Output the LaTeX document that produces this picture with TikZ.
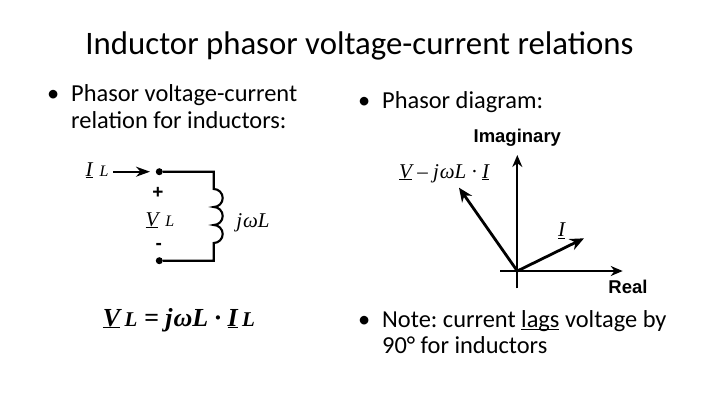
\documentclass[tikz,border=0pt]{standalone}
\usepackage{fontspec}
\usetikzlibrary{arrows.meta}
\setmainfont{Carlito}
\newfontfamily\serifl{Liberation Serif}
\newfontfamily\sansl{Liberation Sans}
\newcommand{\ul}[1]{\underline{\smash{#1}}}
\frenchspacing
\tikzset{
  titletext/.style={inner sep=0pt,font=\fontsize{32.8}{34}\selectfont,anchor=base},
  bodytext/.style={inner sep=0pt,font=\fontsize{24.4}{26}\selectfont,anchor=base west},
  symb/.style={inner sep=0pt,font=\serifl\itshape\fontsize{21}{22}\selectfont,anchor=base},
  eqn/.style={inner sep=0pt,font=\serifl\bfseries\itshape\fontsize{26}{27}\selectfont,anchor=base},
  axlabel/.style={inner sep=0pt,font=\sansl\bfseries\fontsize{18.5}{19}\selectfont,anchor=base},
  sign/.style={inner sep=0pt,font=\sansl\bfseries\fontsize{19}{20}\selectfont},
  wire/.style={draw=black,line width=2.1pt},
  axis/.style={draw=black,line width=2pt,-{Stealth[length=12pt,width=10pt]}},
  phasor/.style={draw=black,line width=2.8pt,-{Stealth[length=14pt,width=12pt]}},
  term/.style={circle,fill=black,inner sep=0pt,minimum size=7pt},
}
\begin{document}
\begin{tikzpicture}[x=1pt,y=-1pt]
\useasboundingbox (0,0) rectangle (720,405);
\node[titletext] (title) at (359.5,54) {Inductor phasor voltage-current relations};
\node[bodytext] (b1) at (47,101) {•};
\node[bodytext] (t1a) at (71,101) {Phasor voltage-current};
\node[bodytext] (t1b) at (71,128) {relation for inductors:};
\node[bodytext] (b2) at (358,108) {•};
\node[bodytext] (t2) at (382,108) {Phasor diagram:};
\node[bodytext] (b3) at (358,327.5) {•};
\node[bodytext] (t3a) at (382,327.5) {Note: current \ul{lags} voltage by};
\node[bodytext] (t3b) at (382,353) {90° for inductors};
% circuit
\node[term] (top) at (159.3,171.7) {};
\node[term] (bot) at (159.3,260.7) {};
\coordinate (cA) at (213.7,171.7);
\coordinate (cB) at (213.7,189);
\coordinate (cD) at (213.7,260.7);
\coordinate (iin) at (113.3,171.7);
\coordinate (iout) at (150,171.7);
\draw[wire] (top) -- (cA) -- (cB)
  arc[start angle=-90,end angle=90,radius=9]
  arc[start angle=-90,end angle=90,radius=9]
  arc[start angle=-90,end angle=90,radius=9]
  -- (cD) -- (bot);
\draw[draw=black,line width=2.1pt,-{Stealth[length=14pt,width=10pt]}] (iin) -- (iout);
\node[symb] (il) at (97,176) {\ul{I}\,\,\fontsize{16}{17}\selectfont L};
\node[sign] (plus) at (158,192.5) {+};
\node[symb] (vl) at (160,226) {\ul{V}\,\,\fontsize{16}{17}\selectfont L};
\node[sign] (minus) at (158.7,246.5) {-};
\node[symb] (jwl) at (253,227) {j\kern1pt ωL};
\node[eqn] (eq) at (179,326) {\ul{V}\,{\fontsize{21}{22}\selectfont L} = j\kern1pt ωL · \ul{I}\,{\fontsize{21}{22}\selectfont L}};
% phasor diagram
\coordinate (o) at (517.3,271);
\coordinate (ys) at (517.3,288.3);
\coordinate (ye) at (517.3,155);
\coordinate (xs) at (500,271);
\coordinate (xe) at (622.7,271);
\coordinate (ve) at (459,187.7);
\coordinate (ie) at (584,238.3);
\draw[axis] (ys) -- (ye);
\draw[axis] (xs) -- (xe);
\draw[phasor] (o) -- (ve);
\draw[phasor] (o) -- (ie);
\node[axlabel] (im) at (517.3,142) {Imaginary};
\node[axlabel] (re) at (628,293.5) {Real};
\node[symb,anchor=base west] (vj) at (399,178) {\ul{V} – j\kern1pt ωL · \ul{I}};
\node[symb] (ilab) at (561.7,236.5) {\ul{I}};
\end{tikzpicture}
\end{document}
